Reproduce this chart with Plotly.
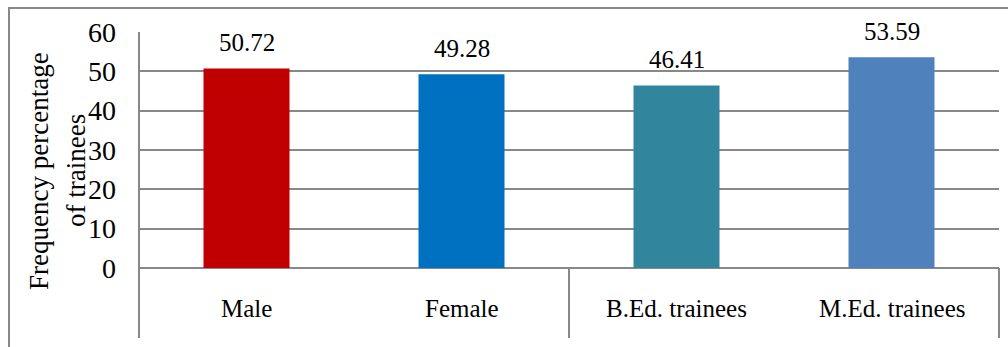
import plotly.graph_objects as go

categories = ["Male", "Female", "B.Ed. trainees", "M.Ed. trainees"]
values = [50.72, 49.28, 46.41, 53.59]
value_labels = ["50.72", "49.28", "46.41", "53.59"]
colors = ["#C00000", "#0070C0", "#31859C", "#4F81BD"]
y_ticks = [0, 10, 20, 30, 40, 50, 60]
y_title_lines = ["Frequency percentage", "of trainees"]

W, H = 1008, 347
L, R, T, B = 139, 9, 32, 79
pw, ph = W - L - R, H - T - B

def px_to_paper_x(px):
    return (px - L) / pw

def px_to_paper_y(py):
    return (H - B - py) / ph

FONT = "Liberation Serif"
GRAY = "#888888"

fig = go.Figure()
fig.add_trace(go.Bar(
    x=categories, y=values, marker=dict(color=colors, line=dict(width=0)),
    width=0.4, hoverinfo="skip",
))

annotations = []
for c, v, t in zip(categories, values, value_labels):
    annotations.append(dict(x=c, y=v, xref="x", yref="y", text=t, showarrow=False,
                            yanchor="middle", yshift=26,
                            font=dict(family=FONT, size=25, color="black")))
for c in categories:
    annotations.append(dict(x=c, y=px_to_paper_y(308), xref="x", yref="paper", text=c,
                            showarrow=False, yanchor="middle",
                            font=dict(family=FONT, size=25, color="black")))
for line, cx in zip(y_title_lines, [39, 76]):
    annotations.append(dict(x=px_to_paper_x(cx), y=px_to_paper_y(171), xref="paper", yref="paper",
                            text=line, showarrow=False, textangle=-90,
                            xanchor="center", yanchor="middle",
                            font=dict(family=FONT, size=27, color="black")))

shapes = [
    dict(type="rect", xref="paper", yref="paper",
         x0=px_to_paper_x(9), x1=px_to_paper_x(1014),
         y0=px_to_paper_y(353), y1=px_to_paper_y(8),
         line=dict(color=GRAY, width=2)),
    dict(type="line", xref="paper", yref="paper",
         x0=0, x1=0, y0=px_to_paper_y(338), y1=1,
         line=dict(color=GRAY, width=2)),
    dict(type="line", xref="paper", yref="paper",
         x0=0.5, x1=0.5, y0=px_to_paper_y(338), y1=0,
         line=dict(color=GRAY, width=2)),
    dict(type="line", xref="paper", yref="paper",
         x0=1, x1=1, y0=px_to_paper_y(338), y1=0,
         line=dict(color=GRAY, width=2)),
]

fig.update_layout(
    width=W, height=H,
    margin=dict(l=L, r=R, t=T, b=B, pad=0),
    paper_bgcolor="white", plot_bgcolor="white",
    showlegend=False,
    font=dict(family=FONT, color="black"),
    annotations=annotations,
    shapes=shapes,
    xaxis=dict(showticklabels=False, showgrid=False, zeroline=False,
               showline=False, ticks="", fixedrange=True),
    yaxis=dict(range=[0, 60], tickvals=y_ticks, showgrid=True, gridcolor=GRAY, gridwidth=1.5,
               zeroline=True, zerolinecolor=GRAY, zerolinewidth=2,
               showline=False, ticks="", ticklabelstandoff=22,
               tickfont=dict(family=FONT, size=28, color="black"), fixedrange=True),
)

fig.write_html("out.html")
